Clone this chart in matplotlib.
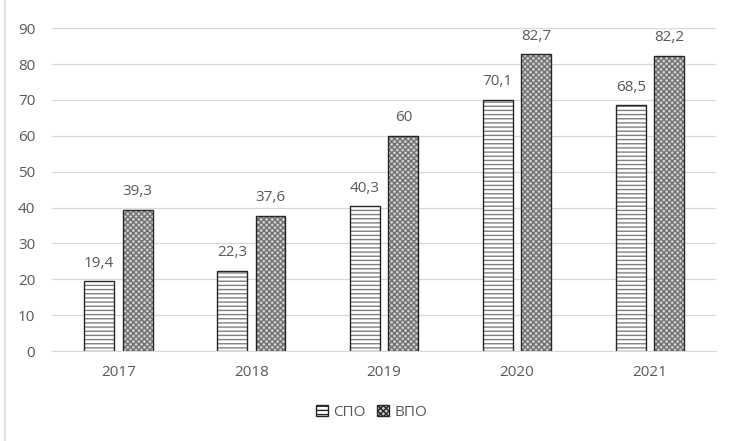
import matplotlib.pyplot as plt
import numpy as np
from matplotlib.patches import Patch

plt.rcParams['font.family'] = ['Open Sans', 'DejaVu Sans']
plt.rcParams['hatch.linewidth'] = 1.0

years = ["2017", "2018", "2019", "2020", "2021"]
spo = [19.4, 22.3, 40.3, 70.1, 68.5]
vpo = [39.3, 37.6, 60, 82.7, 82.2]

grau = "#595959"
fig = plt.figure(figsize=(7.31, 4.41), dpi=100)
ax = fig.add_axes([0.071, 0.204, 0.909, 0.732])

x = np.arange(len(years))
w = 0.225
off = 0.145

# Schraffur in Grau, Umriss danach in Schwarz
ax.bar(x - off, spo, w, color="white", edgecolor="#808080", linewidth=0, hatch="----", zorder=3)
ax.bar(x + off, vpo, w, color="#d0d0d0", edgecolor="#707070", linewidth=0, hatch="xxxxxx", zorder=3)
ax.bar(x - off, spo, w, color="none", edgecolor="#262626", linewidth=1.0, zorder=4)
ax.bar(x + off, vpo, w, color="none", edgecolor="#262626", linewidth=1.0, zorder=4)

def fmt(v):
    s = ("%.1f" % v).replace(".", ",")
    return s[:-2] if s.endswith(",0") else s

for xi, v in zip(x - off, spo):
    ax.text(xi, v + 3, fmt(v), ha="center", va="bottom", fontsize=11, color=grau)
for xi, v in zip(x + off, vpo):
    ax.text(xi, v + 3, fmt(v), ha="center", va="bottom", fontsize=11, color=grau)

ax.set_xlim(-0.5, 4.5)
ax.set_ylim(0, 90)
ax.set_yticks(range(0, 91, 10))
ax.set_xticks(x)
ax.set_xticklabels(years)
ax.grid(axis="y", color="#d9d9d9", linewidth=0.9, zorder=0)
for s in ["top", "right", "left"]:
    ax.spines[s].set_visible(False)
ax.spines["bottom"].set_color("#d9d9d9")
ax.tick_params(length=0, labelsize=11, labelcolor=grau)
ax.tick_params(axis="y", pad=12)
ax.tick_params(axis="x", pad=10)

handles = [Patch(facecolor="white", edgecolor="#262626", hatch="----", label="СПО"),
           Patch(facecolor="#d0d0d0", edgecolor="#262626", hatch="xxxxxx", label="ВПО")]
fig.legend(handles=handles, loc="center", bbox_to_anchor=(0.508, 0.065), ncol=2, frameon=False,
           fontsize=11, labelcolor=grau, handlelength=0.8, handleheight=0.8,
           handletextpad=0.3, columnspacing=0.8)

fig.add_artist(plt.Line2D([0.007, 0.007], [0, 1], color="#d9d9d9", linewidth=1.2))

fig.savefig("out.png", dpi=100)
